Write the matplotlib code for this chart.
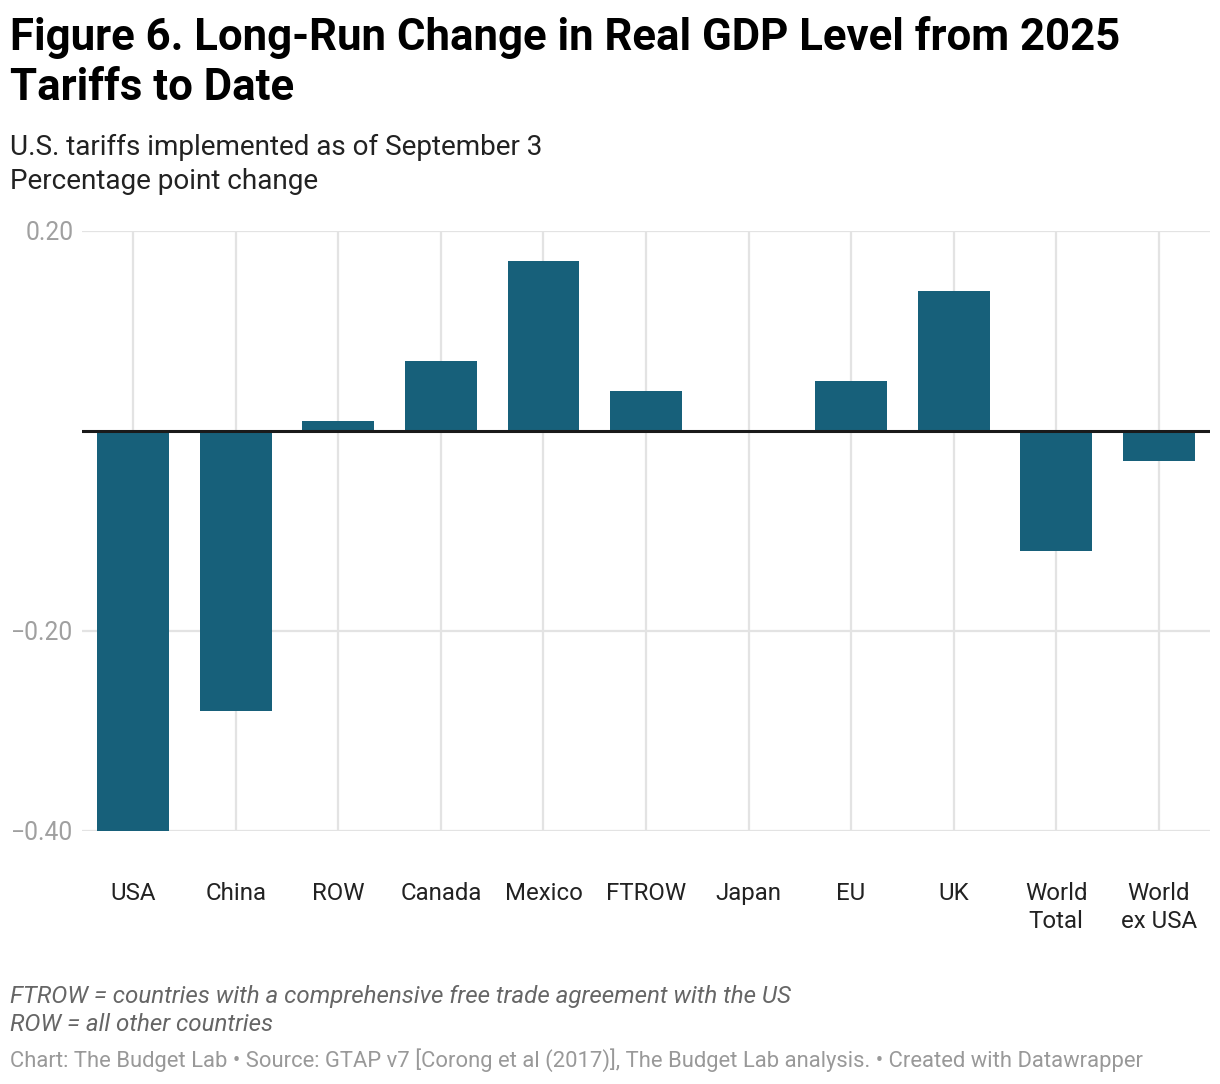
import matplotlib
matplotlib.use("Agg")
import matplotlib.pyplot as plt

categories = ["USA", "China", "ROW", "Canada", "Mexico", "FTROW", "Japan", "EU", "UK", "World\nTotal", "World\nex USA"]
values = [-0.40, -0.28, 0.01, 0.07, 0.17, 0.04, 0.00, 0.05, 0.14, -0.12, -0.03]
yticks = [0.20, -0.20, -0.40]
ytick_labels = ["0.20", "\u22120.20", "\u22120.40"]

plt.rcParams['font.family'] = ['Roboto', 'DejaVu Sans']

W, H = 1220, 1084
fig = plt.figure(figsize=(W / 100, H / 100), dpi=100)
ax = fig.add_axes([82 / W, 1 - 831 / H, (1210 - 82) / W, (831 - 231) / H])

bar_color = "#17607a"
x = list(range(len(categories)))
ax.bar(x, values, width=0.70, color=bar_color, zorder=3)

ax.set_xlim(-0.5, len(categories) - 0.5)
ax.set_ylim(-0.40, 0.20)

for xi in x:
    ax.axvline(xi, color="#e3e3e3", lw=1.6, zorder=1)
for yv in yticks:
    ax.axhline(yv, color="#e3e3e3", lw=1.6, zorder=1)
ax.axhline(0, color="#1a1a1a", lw=2.2, zorder=4)

for s in ax.spines.values():
    s.set_visible(False)

ax.set_yticks(yticks)
ax.set_yticklabels(ytick_labels, fontsize=17.8, color="#a0a0a0")
ax.tick_params(axis="y", length=0, pad=6)
ax.set_xticks(x)
ax.set_xticklabels(categories, fontsize=17.3, color="#222222", linespacing=1.25, va="top")
ax.tick_params(axis="x", length=0, pad=37)

fig.text(10 / W, 1 - 50 / H, "Figure 6. Long-Run Change in Real GDP Level from 2025",
         fontsize=31.5, fontweight="bold", color="#000000", ha="left", va="baseline")
fig.text(10 / W, 1 - 100 / H, "Tariffs to Date",
         fontsize=31.5, fontweight="bold", color="#000000", ha="left", va="baseline")
fig.text(10 / W, 1 - 155 / H, "U.S. tariffs implemented as of September 3",
         fontsize=20.1, color="#222222", ha="left", va="baseline")
fig.text(10 / W, 1 - 189 / H, "Percentage point change",
         fontsize=20.1, color="#222222", ha="left", va="baseline")

fig.text(10 / W, 1 - 1003 / H, "FTROW = countries with a comprehensive free trade agreement with the US",
         fontsize=17.4, style="italic", color="#666666", ha="left", va="baseline")
fig.text(10 / W, 1 - 1031 / H, "ROW = all other countries",
         fontsize=17.4, style="italic", color="#666666", ha="left", va="baseline")
fig.text(10 / W, 1 - 1067 / H,
         "Chart: The Budget Lab \u2022 Source: GTAP v7 [Corong et al (2017)], The Budget Lab analysis. \u2022 Created with Datawrapper",
         fontsize=15.8, color="#999999", ha="left", va="baseline")

fig.savefig("out.png", dpi=100, facecolor="white")
